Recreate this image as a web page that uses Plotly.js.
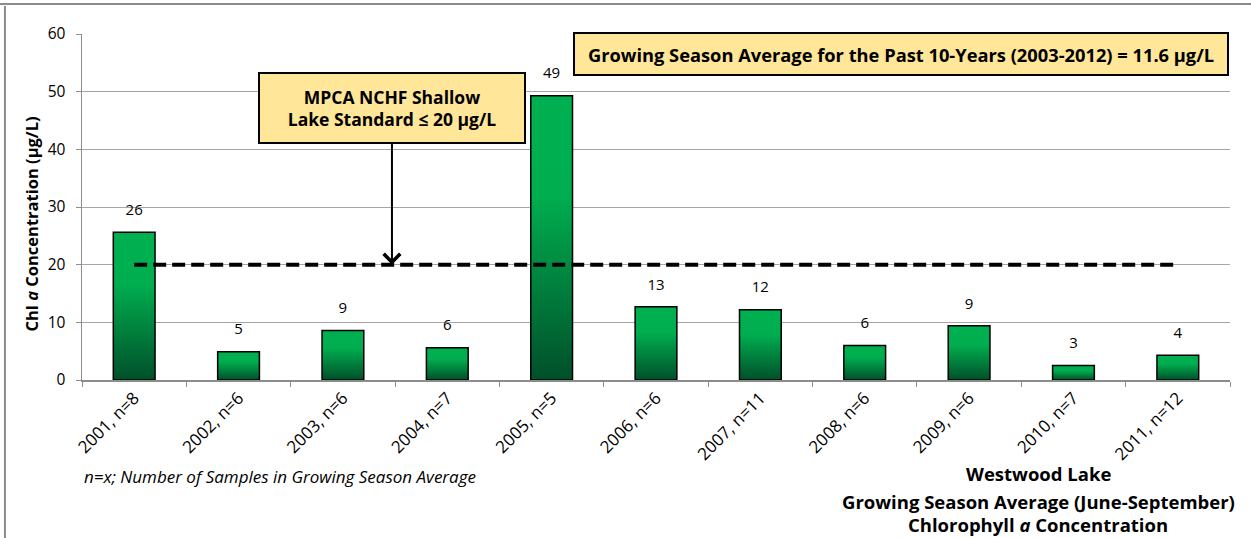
<!DOCTYPE html>
<html>
<head>
<meta charset="utf-8">
<script src="https://cdn.plot.ly/plotly-3.0.1.min.js"></script>
<style>
html,body{margin:0;padding:0;background:#fff;}
#chart{width:1251px;height:538px;}
</style>
</head>
<body>
<div id="chart"></div>
<script>
// ---- data ----
var categories = ["2001, n=8","2002, n=6","2003, n=6","2004, n=7","2005, n=5","2006, n=6","2007, n=11","2008, n=6","2009, n=6","2010, n=7","2011, n=12"];
var chlA = [25.6, 4.9, 8.6, 5.6, 49.3, 12.7, 12.2, 6.0, 9.4, 2.5, 4.3];
var standardValue = 20;
var standardLine = categories.map(function(){ return standardValue; });
var labelText = chlA.map(function(v){ return String(Math.round(v)); });

var FONT = "'Open Sans', sans-serif";

var traces = [
  {
    type: "bar",
    x: categories,
    y: chlA,
    width: 0.4,
    marker: {color: "#00A04A", line: {color: "#000000", width: 1.5}},
    hoverinfo: "skip",
    showlegend: false
  },
  {
    type: "scatter",
    mode: "lines",
    x: categories,
    y: standardLine,
    line: {color: "#000000", width: 4, dash: "13px,6px"},
    hoverinfo: "skip",
    showlegend: false
  },
  {
    type: "scatter",
    mode: "markers+text",
    x: categories,
    y: chlA,
    text: labelText,
    textposition: "top center",
    textfont: {family: FONT, size: 15, color: "#000"},
    marker: {size: 20, opacity: 0},
    hoverinfo: "skip",
    showlegend: false
  }
];

var layout = {
  width: 1251,
  height: 538,
  margin: {l: 82, r: 21, t: 34, b: 158},
  paper_bgcolor: "#ffffff",
  plot_bgcolor: "#ffffff",
  font: {family: FONT, color: "#000"},
  showlegend: false,
  xaxis: {
    type: "category",
    range: [-0.5, 10.5],
    tickangle: -45,
    tickfont: {family: FONT, size: 17, color: "#000"},
    showline: true,
    linecolor: "#8c8c8c",
    linewidth: 1.5,
    ticks: "outside",
    tickson: "boundaries",
    ticklen: 5,
    tickcolor: "#8c8c8c",
    showgrid: false,
    automargin: false,
    fixedrange: true
  },
  yaxis: {
    range: [0, 60],
    dtick: 10,
    tickfont: {family: FONT, size: 15.5, color: "#000"},
    ticklabelstandoff: 7,
    showline: true,
    linecolor: "#8c8c8c",
    linewidth: 1.5,
    ticks: "outside",
    ticklen: 5,
    tickcolor: "#8c8c8c",
    showgrid: true,
    gridcolor: "#a6a6a6",
    gridwidth: 1,
    zeroline: false,
    automargin: false,
    fixedrange: true
  },
  shapes: [
    {type: "line", xref: "paper", yref: "paper", x0: -0.1, x1: 1.1, y0: 1.0867, y1: 1.0867,
     line: {color: "#8c8c8c", width: 2}},
    {type: "line", xref: "paper", yref: "paper", x0: -0.0671, x1: -0.0671, y0: 1.0809, y1: -0.5,
     line: {color: "#8c8c8c", width: 2}}
  ],
  annotations: [
    {
      xref: "x", yref: "y", x: 2.47, y: standardValue,
      axref: "pixel", ayref: "pixel", ax: 0, ay: -157,
      showarrow: true, arrowhead: 4, arrowsize: 1.6, arrowwidth: 2, arrowcolor: "#000",
      text: "<b>MPCA NCHF Shallow<br>Lake Standard ≤ 20 µg/L</b>",
      font: {family: FONT, size: 17.5, color: "#000"},
      align: "center",
      bgcolor: "#FFE699", bordercolor: "#000", borderwidth: 2,
      width: 262, height: 66
    },
    {
      xref: "paper", yref: "paper", x: 0.713, y: 0.9408,
      xanchor: "center", yanchor: "middle", showarrow: false,
      text: "<b>Growing Season Average for the Past 10-Years (2003-2012) = 11.6 µg/L</b>",
      font: {family: FONT, size: 18.3, color: "#000"},
      bgcolor: "#FFE699", bordercolor: "#000", borderwidth: 2,
      width: 650, height: 38
    },
    {
      xref: "paper", yref: "paper", x: -0.0436, y: 0.452,
      xanchor: "center", yanchor: "middle", showarrow: false, textangle: -90,
      text: "<b>Chl <i>a</i> Concentration (µg/L)</b>",
      font: {family: FONT, size: 16.5, color: "#000"}
    },
    {
      xref: "paper", yref: "paper", x: 0.0, y: -0.280,
      xanchor: "left", yanchor: "middle", showarrow: false,
      text: "<i>n=x; Number of Samples in Growing Season Average</i>",
      font: {family: FONT, size: 17, color: "#000"}
    },
    {
      xref: "paper", yref: "paper", x: 0.833, y: -0.269,
      xanchor: "center", yanchor: "middle", showarrow: false,
      text: "<b>Westwood Lake</b>",
      font: {family: FONT, size: 18.5, color: "#000"}
    },
    {
      xref: "paper", yref: "paper", x: 0.833, y: -0.350,
      xanchor: "center", yanchor: "middle", showarrow: false,
      text: "<b>Growing Season Average (June-September)</b>",
      font: {family: FONT, size: 18.5, color: "#000"}
    },
    {
      xref: "paper", yref: "paper", x: 0.833, y: -0.419,
      xanchor: "center", yanchor: "middle", showarrow: false,
      text: "<b>Chlorophyll <i>a</i> Concentration</b>",
      font: {family: FONT, size: 18.5, color: "#000"}
    }
  ]
};

Plotly.newPlot("chart", traces, layout, {displayModeBar: false, staticPlot: true}).then(function(gd){
  // apply vertical gradient fill to bars (light green top, dark green bottom)
  var svg = gd.querySelector("svg.main-svg");
  var NS = "http://www.w3.org/2000/svg";
  var defs = svg.querySelector("defs") || svg.insertBefore(document.createElementNS(NS, "defs"), svg.firstChild);
  var grad = document.createElementNS(NS, "linearGradient");
  grad.setAttribute("id", "barGrad");
  grad.setAttribute("x1", "0"); grad.setAttribute("y1", "0");
  grad.setAttribute("x2", "0"); grad.setAttribute("y2", "1");
  [["0", "#00B050"], ["0.35", "#00AE4F"], ["1", "#00502A"]].forEach(function(s){
    var st = document.createElementNS(NS, "stop");
    st.setAttribute("offset", s[0]);
    st.setAttribute("stop-color", s[1]);
    grad.appendChild(st);
  });
  defs.appendChild(grad);
  gd.querySelectorAll(".barlayer .point path").forEach(function(p){
    p.style.fill = "url(#barGrad)";
  });
});
</script>
</body>
</html>
